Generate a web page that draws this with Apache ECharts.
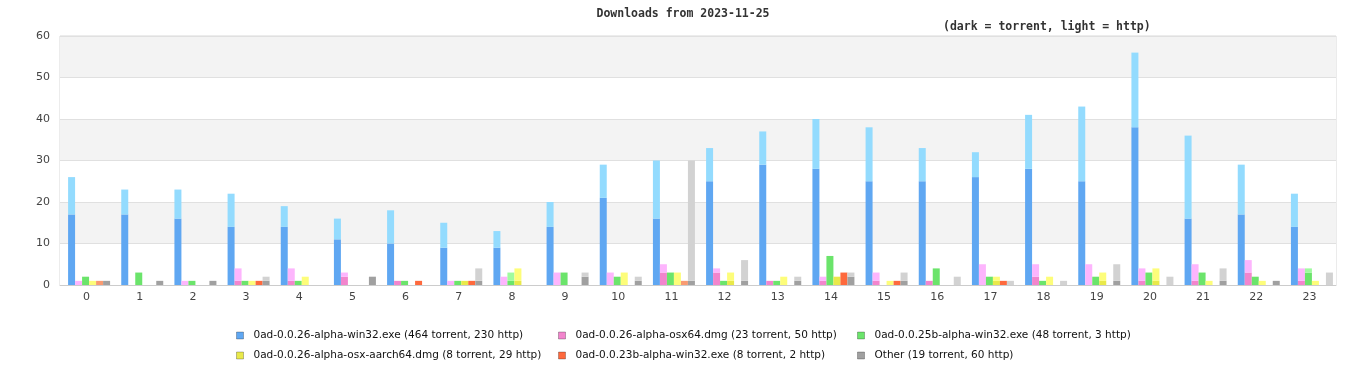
<!DOCTYPE html>
<html>
<head>
<meta charset="utf-8">
<script src="https://cdn.jsdelivr.net/npm/echarts@6/dist/echarts.min.js"></script>
<style>
html,body{margin:0;padding:0;background:#fff;}
#chart{width:1366px;height:380px;}
</style>
</head>
<body>
<div id="chart"></div>
<script>
var hours = ['0','1','2','3','4','5','6','7','8','9','10','11','12','13','14','15','16','17','18','19','20','21','22','23'];
var yTicks = [0,10,20,30,40,50,60];

var products = [
  '0ad-0.0.26-alpha-win32.exe (464 torrent, 230 http)',
  '0ad-0.0.26-alpha-osx64.dmg (23 torrent, 50 http)',
  '0ad-0.0.25b-alpha-win32.exe (48 torrent, 3 http)',
  '0ad-0.0.26-alpha-osx-aarch64.dmg (8 torrent, 29 http)',
  '0ad-0.0.23b-alpha-win32.exe (8 torrent, 2 http)',
  'Other (19 torrent, 60 http)'
];

var win32Torrent = [17,17,16,14,14,11,10,9,9,14,21,16,25,29,28,25,25,26,28,25,38,16,17,14];
var win32Http    = [9,6,7,8,5,5,8,6,4,6,8,14,8,8,12,13,8,6,13,18,18,20,12,8];
var osx64Torrent = [0,0,0,1,1,2,1,0,0,0,0,3,3,1,1,1,1,0,2,0,1,1,3,1];
var osx64Http    = [1,0,1,3,3,1,0,1,2,3,3,2,1,0,1,2,0,5,3,5,3,4,3,3];
var win25Torrent = [2,3,1,1,1,0,1,1,1,3,2,3,1,1,7,0,4,2,1,2,3,3,2,3];
var win25Http    = [0,0,0,0,0,0,0,0,2,0,0,0,0,0,0,0,0,0,0,0,0,0,0,1];
var aarchTorrent = [0,0,0,0,0,0,0,1,1,0,0,0,1,0,2,0,0,1,0,1,1,0,0,0];
var aarchHttp    = [1,0,0,1,2,0,0,0,3,0,3,3,2,2,0,1,0,1,2,2,3,1,1,1];
var w23Torrent   = [0,0,0,1,0,0,1,1,0,0,0,0,0,0,3,1,0,1,0,0,0,0,0,0];
var w23Http      = [1,0,0,0,0,0,0,0,0,0,0,1,0,0,0,0,0,0,0,0,0,0,0,0];
var otherTorrent = [1,1,1,1,0,2,0,1,0,2,1,1,1,1,2,1,0,0,0,1,0,1,1,0];
var otherHttp    = [0,0,0,1,0,0,0,3,0,1,1,29,5,1,1,2,2,1,1,4,2,3,0,3];

var darkColors  = ['#5fa7f2','#f285cd','#6be46b','#e9e94a','#fe693d','#a0a0a0'];
var lightColors = ['#93dbfe','#fdb5fd','#9ffb9f','#fdfd7a','#f99b72','#d2d2d2'];

var torrentData = [win32Torrent, osx64Torrent, win25Torrent, aarchTorrent, w23Torrent, otherTorrent];
var httpData    = [win32Http, osx64Http, win25Http, aarchHttp, w23Http, otherHttp];

// empty leading slot so the bar group sits where the reference places it
var series = [{
  name: 'spacer', type: 'bar', stack: 'spacer', barWidth: 5, barGap: '0%', silent: true,
  itemStyle: {color: 'rgba(0,0,0,0)'}, data: hours.map(function () { return null; })
}];
for (var i = 0; i < products.length; i++) {
  series.push({
    name: products[i], type: 'bar', stack: 's' + i, barWidth: 7, barGap: '0%',
    itemStyle: {color: darkColors[i]}, data: torrentData[i]
  });
  series.push({
    name: products[i], type: 'bar', stack: 's' + i, barWidth: 7, barGap: '0%',
    itemStyle: {color: lightColors[i]}, data: httpData[i]
  });
}

function legendCol(left, idxs) {
  return {
    orient: 'vertical', left: left, top: 328.5, itemWidth: 7, itemHeight: 7, icon: 'rect',
    itemGap: 6, padding: 0,
    textStyle: {fontFamily: 'DejaVu Sans', fontSize: 10.5, color: '#111', lineHeight: 14, padding: [0,0,0,5]},
    data: idxs.map(function (k) {
      return {name: products[k], itemStyle: {color: darkColors[k], borderColor: 'rgba(0,0,0,0.25)', borderWidth: 1}};
    })
  };
}

var chart = echarts.init(document.getElementById('chart'), null, {renderer: 'canvas'});
chart.setOption({
  animation: false,
  backgroundColor: '#ffffff',
  title: [
    {text: 'Downloads from 2023-11-25', left: 'center', top: 8, padding: 0,
     textStyle: {fontFamily: 'DejaVu Sans Mono', fontWeight: 'bold', fontSize: 11.5, color: '#333'}},
    {text: '(dark = torrent, light = http)', left: 943, top: 21, padding: 0,
     textStyle: {fontFamily: 'DejaVu Sans Mono', fontWeight: 'bold', fontSize: 11.5, color: '#333'}}
  ],
  legend: [legendCol(236, [0, 3]), legendCol(558, [1, 4]), legendCol(857, [2, 5])],
  grid: {left: 60, right: 30, top: 36, bottom: 95, show: true, borderColor: '#d8d8d8', borderWidth: 1, backgroundColor: 'transparent'},
  xAxis: {
    type: 'category', data: hours,
    axisLine: {lineStyle: {color: '#cccccc'}},
    axisTick: {show: false},
    axisLabel: {fontFamily: 'DejaVu Sans', fontSize: 11, color: '#444', margin: 7}
  },
  yAxis: {
    type: 'value', min: yTicks[0], max: yTicks[yTicks.length - 1], interval: 10,
    axisLine: {show: false}, axisTick: {show: false},
    axisLabel: {fontFamily: 'DejaVu Sans', fontSize: 11, color: '#444', margin: 10},
    splitLine: {lineStyle: {color: '#e0e0e0'}},
    splitArea: {show: true, areaStyle: {color: ['#ffffff', '#f3f3f3']}}
  },
  series: series
});
</script>
</body>
</html>
